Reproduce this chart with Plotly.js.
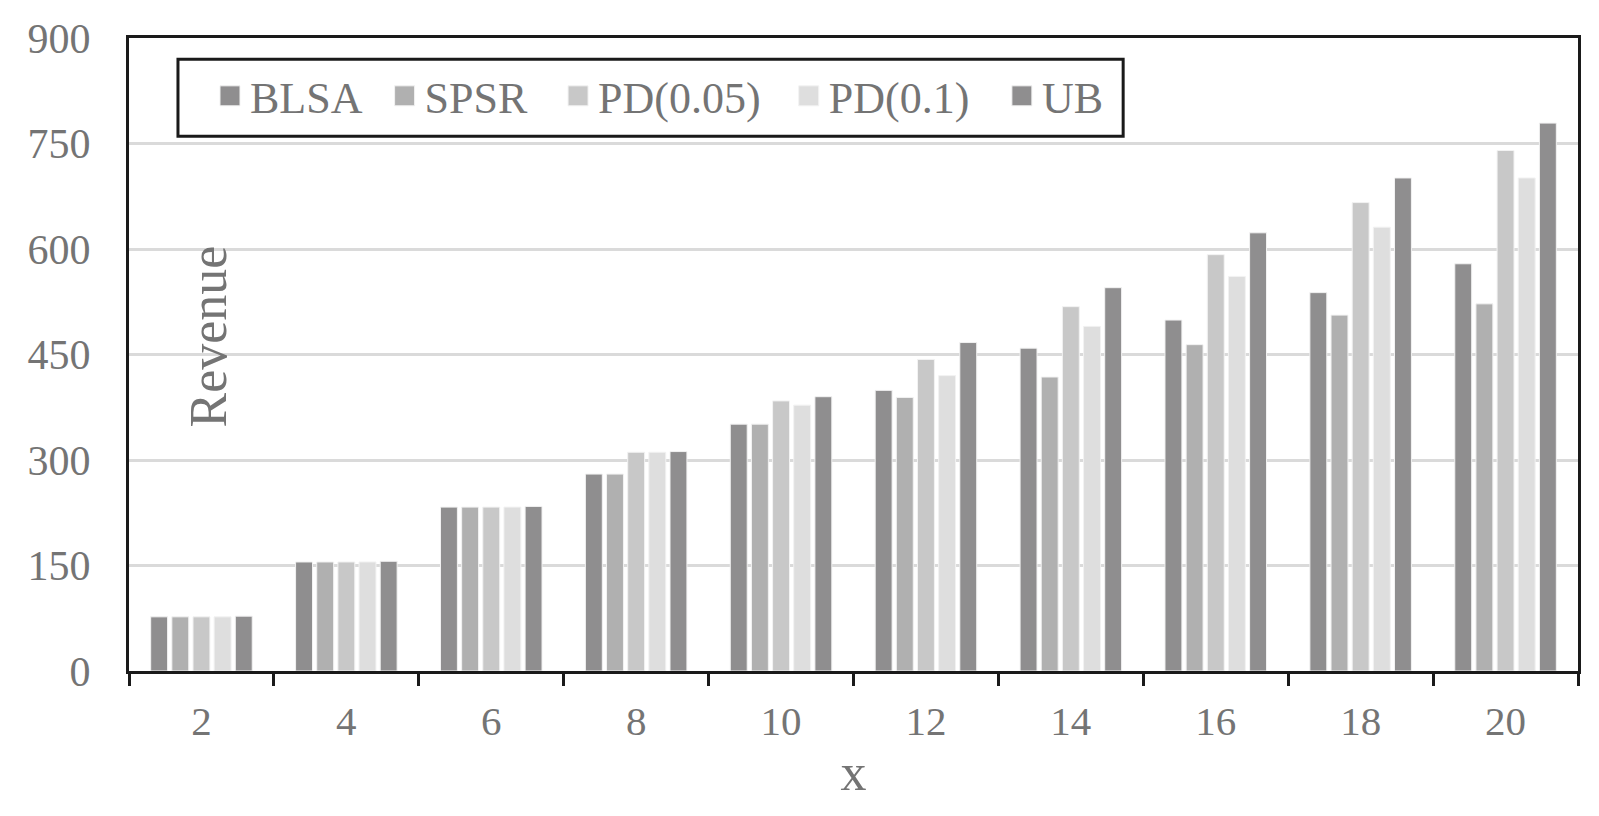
<!DOCTYPE html>
<html>
<head>
<meta charset="utf-8">
<script src="https://cdn.plot.ly/plotly-3.0.1.min.js"></script>
<style>html,body{margin:0;padding:0;background:#fff;}#chart{width:1599px;height:816px;}</style>
</head>
<body>
<div id="chart"></div>
<script>
const categories = ["2", "4", "6", "8", "10", "12", "14", "16", "18", "20"];
const seriesNames = ["BLSA", "SPSR", "PD(0.05)", "PD(0.1)", "UB"];
const blsa = [77, 155, 233, 280, 351, 399, 459, 499, 538, 579];
const spsr = [77, 155, 233, 280, 351, 389, 418, 464, 506, 522];
const pd005 = [77, 155, 233, 311, 384, 443, 518, 592, 666, 740];
const pd01 = [77, 155, 233, 311, 378, 420, 490, 561, 631, 701];
const ub = [78, 156, 234, 312, 390, 467, 545, 623, 701, 779];
const yTicks = [0, 150, 300, 450, 600, 750, 900];

const colors = ["#8f8e8f", "#b0b0b0", "#c8c8c8", "#dedede", "#8f8e8f"];
const values = [blsa, spsr, pd005, pd01, ub];
const legendX = [0.0559, 0.1764, 0.2961, 0.4553, 0.6024];
const FONT = '"Liberation Serif", "Times New Roman", serif';
const TXT = '#747474';

const legendIds = ['legend', 'legend2', 'legend3', 'legend4', 'legend5'];

const traces = values.map((v, i) => ({
  type: 'bar',
  name: seriesNames[i],
  x: categories,
  y: v,
  legend: legendIds[i],
  marker: {color: colors[i], line: {color: '#f2f2f2', width: 1}},
  hoverinfo: 'x+y+name'
}));

const layout = {
  width: 1599, height: 816,
  margin: {l: 129, r: 21, t: 38, b: 145, pad: 0},
  paper_bgcolor: '#ffffff', plot_bgcolor: '#ffffff',
  barmode: 'group', bargap: 0.27, bargroupgap: 0.2,
  font: {family: FONT, color: TXT, size: 42},
  showlegend: true,
  xaxis: {
    type: 'category',
    showline: true, linecolor: '#1a1a1a', linewidth: 3, mirror: true,
    ticks: 'outside', tickson: 'boundaries', ticklen: 12, tickwidth: 3, tickcolor: '#1a1a1a',
    showgrid: false, zeroline: false,
    tickfont: {family: FONT, size: 41, color: TXT},
    ticklabelstandoff: 12,
    title: {text: 'x', font: {family: FONT, size: 52, color: TXT}, standoff: 11}
  },
  yaxis: {
    range: [0, 900],
    tickvals: yTicks, ticktext: yTicks.map(String),
    showline: true, linecolor: '#1a1a1a', linewidth: 3, mirror: true,
    ticks: '', showgrid: true, gridcolor: '#dadada', gridwidth: 3,
    zeroline: false,
    tickfont: {family: FONT, size: 42, color: TXT},
    ticklabelstandoff: 27
  },
  shapes: [{
    type: 'rect', xref: 'paper', yref: 'paper',
    x0: 0.0338, x1: 0.6861, y0: 0.8448, y1: 0.9666,
    line: {color: '#1a1a1a', width: 3}, fillcolor: 'rgba(255,255,255,1)', layer: 'below'
  }],
  annotations: [{
    text: 'Revenue', xref: 'paper', yref: 'paper', x: 0.055, y: 0.528,
    xanchor: 'center', yanchor: 'middle', textangle: -90, showarrow: false,
    font: {family: FONT, size: 52, color: TXT}
  }]
};

legendIds.forEach((id, i) => {
  layout[id] = {
    orientation: 'h', x: legendX[i], y: 0.908, xanchor: 'left', yanchor: 'middle',
    bgcolor: 'rgba(0,0,0,0)', borderwidth: 0,
    font: {family: FONT, size: 44, color: TXT},
    itemclick: false, itemdoubleclick: false
  };
});

Plotly.newPlot('chart', traces, layout, {displayModeBar: false, staticPlot: true}).then(() => {
  document.querySelectorAll('#chart .legendpoints path').forEach(p => {
    p.setAttribute('d', 'M10,10H-10V-10H10Z');
  });
});
</script>
</body>
</html>
